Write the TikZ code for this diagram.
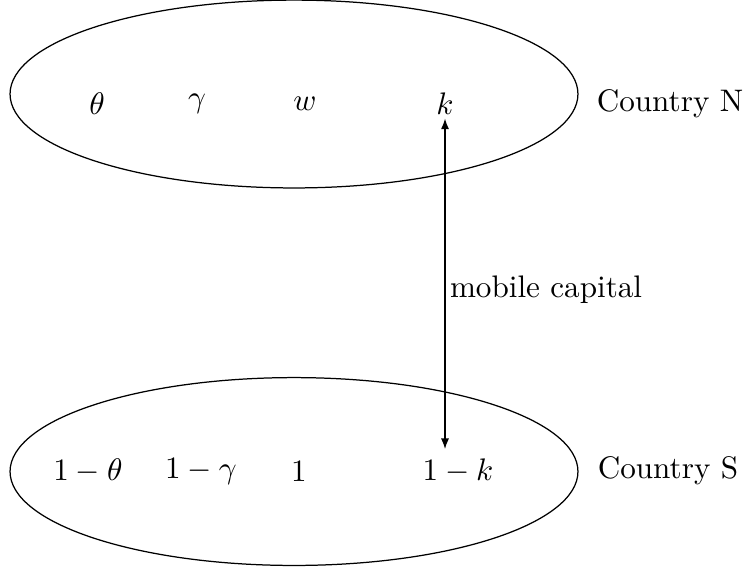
\documentclass[tikz,border=0pt]{standalone}
\usetikzlibrary{arrows.meta,shapes.geometric}

\begin{document}
\begin{tikzpicture}[x=0.321pt,y=-0.321pt]
% y axis points down, coordinates in pixels

% style
\tikzset{
    countryEll/.style={draw, ellipse, line width=0.4pt, minimum width=182.3pt, minimum height=60.3pt, inner sep=0pt},
    varLabel/.style={inner sep=1pt},
    arrowLine/.style={draw, line width=0.4pt, <->, >={Latex[length=3.4pt, width=2.6pt]}}
}

\useasboundingbox (0,0) rectangle (743,574);

% ellipses
\node[countryEll] (northEll) at (294,94) {};
\node[countryEll] (southEll) at (294,471.5) {};

% country N
\node[varLabel] (thetaN) at ( 97,104) {$\theta$};
\node[varLabel] (gammaN) at (197,104) {$\gamma$};
\node[varLabel] (wN)     at (305,104) {$w$};
\node[varLabel] (kN)     at (445,104) {$k$};
\node (nameN) at (670,104) {Country N};

% country S
\node[varLabel] (thetaS) at ( 88,471) {$1-\theta$};
\node[varLabel] (gammaS) at (201,471) {$1-\gamma$};
\node[varLabel] (wS)     at (299,471) {$1$};
\node[varLabel] (kS)     at (458,471) {$1-k$};
\node (nameS) at (668,471) {Country S};

% capital flow
\coordinate (capEnd) at (445,449);
\draw[arrowLine] (kN.south) -- (capEnd);
\node[anchor=west] (capLabel) at (439,290) {mobile capital};

\end{tikzpicture}
\end{document}
